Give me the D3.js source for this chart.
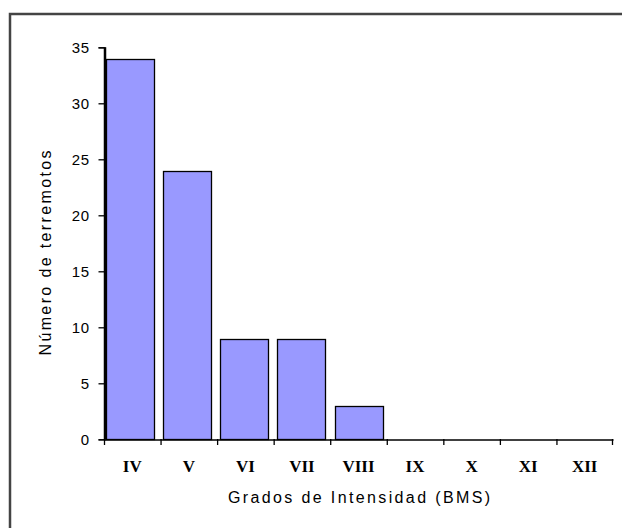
<!DOCTYPE html>
<html><head><meta charset="utf-8">
<script src="https://cdn.jsdelivr.net/npm/d3@7/dist/d3.min.js"></script>
<style>html,body{margin:0;padding:0;background:#fff;overflow:hidden;}</style>
</head><body>
<svg id="c" width="622" height="528" style="display:block"></svg>
<script>
const categories = ["IV","V","VI","VII","VIII","IX","X","XI","XII"];
const values = [34,24,9,9,3,0,0,0,0];
const yTicks = [0,5,10,15,20,25,30,35];
const xTitle = "Grados de Intensidad (BMS)";
const yTitle = "Número de terremotos";

const svg = d3.select("#c");
svg.append("rect").attr("x",10).attr("y",14).attr("width",640).attr("height",540)
  .attr("fill","#fff").attr("stroke","#444").attr("stroke-width",2.5);

const x = d3.scaleBand().domain(categories).range([104,613]).paddingInner(0.16).paddingOuter(0.04);
const y = d3.scaleLinear().domain([0,35]).range([439.3,47.3]);

svg.append("g").selectAll("rect").data(values).join("rect")
  .attr("x",(d,i)=>Math.round(x(categories[i]))+0.5)
  .attr("width",Math.round(x.bandwidth()))
  .attr("y",d=>Math.round(y(d))+0.5)
  .attr("height",d=>Math.max(0,Math.round(y(0))-Math.round(y(d))))
  .attr("fill","#9999FF").attr("stroke","#000").attr("stroke-width",1.3)
  .attr("display",d=>d>0?null:"none");

const yAxis = svg.append("g").attr("transform","translate(104.5,0)")
  .call(d3.axisLeft(y).tickValues(yTicks).tickSize(6).tickPadding(9));
yAxis.select(".domain").attr("stroke","#000").attr("stroke-width",1.3);
yAxis.selectAll(".tick line").attr("stroke","#000").attr("stroke-width",1.3);
yAxis.selectAll("text").attr("font-family","Liberation Sans, Arial, sans-serif").attr("font-size",15).attr("letter-spacing",0.5).attr("fill","#000");
svg.append("line").attr("x1",105).attr("x2",105).attr("y1",y(35)).attr("y2",y(0))
  .attr("stroke","#000").attr("stroke-width",2.5);

const xb = d3.scaleBand().domain(categories).range([104,613]);
const xAxis = svg.append("g").attr("transform","translate(0,439.5)")
  .call(d3.axisBottom(xb).tickSize(0).tickPadding(20));
xAxis.select(".domain").attr("stroke","#000").attr("stroke-width",1.3);
xAxis.selectAll("text").attr("font-family","Liberation Serif, Times New Roman, serif").attr("font-weight","bold").attr("font-size",17).attr("fill","#000");
svg.append("g").selectAll("line").data(categories.concat(["_end"])).join("line")
  .attr("x1",(d,i)=>i<categories.length?xb(d)+0.5:xb.range()[1]-0.5)
  .attr("x2",(d,i)=>i<categories.length?xb(d)+0.5:xb.range()[1]-0.5)
  .attr("y1",439).attr("y2",445).attr("stroke","#000").attr("stroke-width",1.3);

svg.append("text").attr("x",359).attr("y",503).attr("text-anchor","middle")
  .attr("font-family","Liberation Sans, Arial, sans-serif").attr("font-size",16)
  .attr("textLength",262).attr("lengthAdjust","spacing").text(xTitle);
svg.append("text").attr("transform","translate(51,253) rotate(-90)").attr("text-anchor","middle")
  .attr("font-family","Liberation Sans, Arial, sans-serif").attr("font-size",16)
  .attr("textLength",205).attr("lengthAdjust","spacing").text(yTitle);
</script>
</body></html>
